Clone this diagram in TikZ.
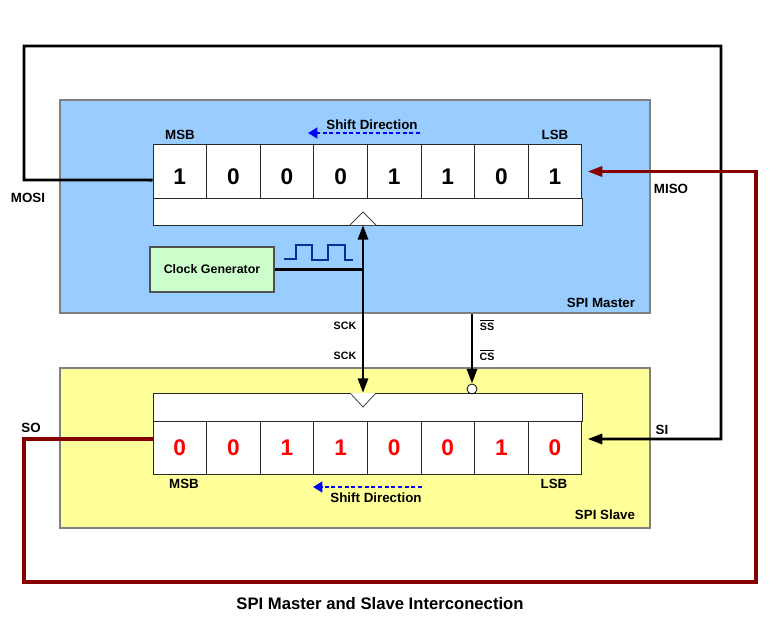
\documentclass[tikz,border=0pt]{standalone}
\usepackage{fontspec}
\setmainfont{Liberation Sans}
\usetikzlibrary{arrows.meta}

\begin{document}
\begin{tikzpicture}[x=0.75pt,y=0.75pt,yscale=-1,xscale=1,
  font=\bfseries\fontsize{10}{12}\selectfont,
  >={Triangle[length=11pt,width=7.5pt]},
  board/.style={draw={rgb, 255:red, 128; green, 128; blue, 128}, line width=2.2pt, inner sep=0pt, minimum width=442.5pt},
  strip/.style={draw={rgb, 255:red, 40; green, 40; blue, 40}, fill=white, line width=0.7pt, inner sep=0pt, minimum width=321.75pt},
  unit/.style={draw={rgb, 255:red, 40; green, 40; blue, 40}, fill=white, line width=0.7pt, inner sep=0pt, minimum width=40.2pt, minimum height=40pt, font=\bfseries\fontsize{17}{17}\selectfont},
  wire/.style={line width=2.2pt},
  retwire/.style={draw={rgb, 255:red, 135; green, 0; blue, 0}, line width=2.4pt},
  shiftarrow/.style={draw={rgb, 255:red, 0; green, 0; blue, 255}, line width=1.8pt, dash pattern=on 3pt off 2pt, -{Triangle[length=7pt,width=8pt]}},
  clocktri/.style={draw={rgb, 255:red, 70; green, 70; blue, 70}, fill=white, line width=0.6pt},
  small/.style={font=\bfseries\fontsize{8}{10}\selectfont}
]
\useasboundingbox (0,0) rectangle (776,621);

% boards
\node [board, fill={rgb, 255:red, 153; green, 204; blue, 255}, minimum height=159.75pt] (master) at (355,206.5) {};
\node [board, fill={rgb, 255:red, 255; green, 255; blue, 153}, minimum height=120pt] (slave) at (355,448) {};

% shift registers
\node [strip, minimum height=20.25pt] (mstrip) at (367.5,211.5) {};
\node [strip, minimum height=21pt] (sstrip) at (367.5,407) {};
\foreach \b [count=\i] in {1,0,0,0,1,1,0,1}
  \node [unit, text height=20pt, text depth=0pt] (m\i) at (126.2+53.6*\i,171.5) {\b};
\foreach \b [count=\i] in {0,0,1,1,0,0,1,0}
  \node [unit, text=red] (s\i) at (126.2+53.6*\i,448) {\b};

% clock inputs
\draw [clocktri] (350,225) -- (363,212) -- (376,225);
\draw [clocktri] (350,393) -- (363,407) -- (376,393);
\coordinate (mtri) at (363,225);
\coordinate (stri) at (363,393);

% clock generator
\node [draw={rgb, 255:red, 80; green, 80; blue, 80}, fill={rgb, 255:red, 204; green, 255; blue, 204}, line width=0.8pt, minimum width=93pt, minimum height=33.75pt, inner sep=0pt, font=\bfseries\fontsize{9.3}{11}\selectfont] (clk) at (212,269.5) {Clock Generator};
\draw [draw={rgb, 255:red, 0; green, 51; blue, 153}, line width=1.1pt] (284,259) -- (296,259) -- (296,245) -- (312,245) -- (312,260) -- (328,260) -- (328,245) -- (345,245) -- (345,260) -- (353,260) ;

% SCK and SS
\node [circle, draw, fill=white, line width=0.6pt, inner sep=0pt, minimum size=7.5pt] (sscirc) at (472,389) {};
\draw [wire, <->] (mtri) -- (stri) ;
\draw [wire] (clk.east) -- (clk.east -| mtri) ;
\draw [wire, ->] (master.south -| sscirc) -- (sscirc.north) ;

% MOSI / MISO
\coordinate (mosiL) at (24,180);
\coordinate (mosiR) at (721,46);
\coordinate (soL) at (24,439);
\coordinate (misoR) at (756,582);
\draw [wire, ->] ([yshift=6.4pt]m1.west) -- (mosiL) |- (mosiR) |- ([xshift=4pt,yshift=-6.75pt]s8.east) ;
\draw [retwire, ->] ([yshift=-6.75pt]s1.west) -- (soL) |- (misoR) |- ([xshift=4pt]m8.east) ;

% shift direction
\coordinate (mshA) at (420,133);
\coordinate (mshB) at (308,133);
\coordinate (sshA) at (422,487);
\coordinate (sshB) at (313,487);
\draw [shiftarrow] (mshA) -- (mshB) ;
\draw [shiftarrow] (sshA) -- (sshB) ;

% Text Node
\node (mmsb) at (180,135) {MSB};
\node (mlsb) at (555,135) {LSB};
\node (mshift) at (372,125) {Shift Direction};
\node (smsb) at (184,484) {MSB};
\node (slsb) at (554,484) {LSB};
\node (sshift) at (376,498) {Shift Direction};
\node (mosi) at (28,198) {MOSI};
\node (miso) at (671,189) {MISO};
\node (si) at (662,430) {SI};
\node (so) at (31,428) {SO};
\node (mname) at (601,303) {SPI Master};
\node (sname) at (605,515) {SPI Slave};
\node [small] (msck) at (345,326) {SCK};
\node [small] (ssck) at (345,356) {SCK};
\node [small] (mss) at (487,325) {$\overline{\mbox{SS}}$};
\node [small] (scs) at (487,355) {$\overline{\mbox{CS}}$};
\node [font=\bfseries\fontsize{12.5}{15}\selectfont] (title) at (380,604) {SPI Master and Slave Interconection};

\end{tikzpicture}
\end{document}
